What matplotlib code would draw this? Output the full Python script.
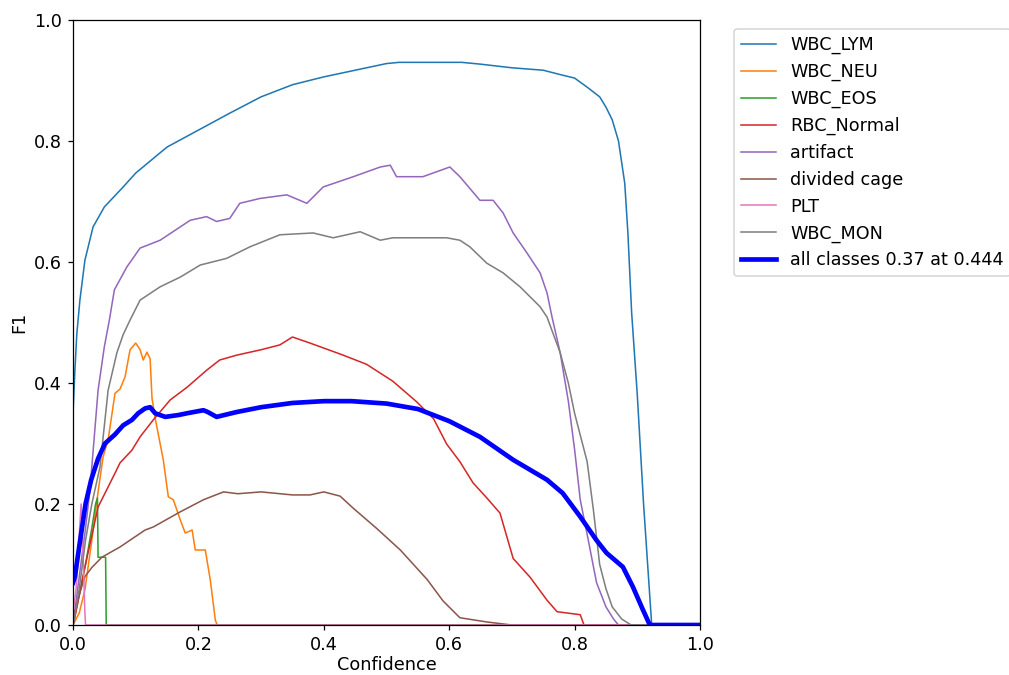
import matplotlib
matplotlib.use("Agg")
from matplotlib import pyplot as plt

# F1 vs confidence
lym_c = [0.0, 0.003, 0.006, 0.011, 0.019, 0.032, 0.05, 0.08, 0.1, 0.15, 0.2, 0.25, 0.3, 0.35,
         0.4, 0.45, 0.5, 0.52, 0.62, 0.65, 0.7, 0.75, 0.78, 0.8, 0.82, 0.84, 0.85, 0.86,
         0.87, 0.88, 0.885, 0.891, 0.9, 0.91, 0.923, 1.0]
lym_f = [0.35, 0.42, 0.48, 0.537, 0.603, 0.658, 0.691, 0.724, 0.747, 0.79, 0.818, 0.846, 0.873, 0.893,
         0.906, 0.917, 0.928, 0.93, 0.93, 0.927, 0.921, 0.917, 0.909, 0.904, 0.889, 0.873, 0.856, 0.835,
         0.80, 0.73, 0.648, 0.516, 0.38, 0.2, 0.0, 0.0]

neu_c = [0.0, 0.01, 0.019, 0.03, 0.04, 0.048, 0.056, 0.067, 0.075, 0.083, 0.091, 0.1, 0.107, 0.112,
         0.118, 0.123, 0.126, 0.131, 0.144, 0.152, 0.16, 0.171, 0.179, 0.19, 0.195, 0.211, 0.219,
         0.227, 0.23, 1.0]
neu_f = [0.0, 0.02, 0.058, 0.14, 0.22, 0.278, 0.306, 0.383, 0.39, 0.41, 0.455, 0.466, 0.455, 0.438,
         0.451, 0.44, 0.375, 0.342, 0.273, 0.212, 0.207, 0.174, 0.152, 0.157, 0.124, 0.124, 0.074,
         0.008, 0.0, 0.0]

eos_c = [0.0, 0.01, 0.02, 0.03, 0.036, 0.039, 0.040, 0.052, 0.053, 1.0]
eos_f = [0.0, 0.05, 0.10, 0.16, 0.20, 0.21, 0.112, 0.112, 0.0, 0.0]

rbc_c = [0.0, 0.003, 0.019, 0.04, 0.067, 0.075, 0.094, 0.107, 0.128, 0.155, 0.182, 0.213, 0.234,
         0.261, 0.3, 0.33, 0.35, 0.378, 0.431, 0.468, 0.51, 0.548, 0.575, 0.596, 0.617, 0.638,
         0.66, 0.681, 0.702, 0.729, 0.756, 0.772, 0.809, 0.815, 1.0]
rbc_f = [0.0, 0.013, 0.096, 0.195, 0.251, 0.268, 0.289, 0.311, 0.339, 0.372, 0.393, 0.421, 0.438,
         0.446, 0.455, 0.463, 0.476, 0.466, 0.446, 0.431, 0.403, 0.369, 0.341, 0.299, 0.27, 0.235,
         0.21, 0.185, 0.11, 0.079, 0.041, 0.022, 0.017, 0.0, 0.0]

art_c = [0.0, 0.01, 0.02, 0.027, 0.04, 0.05, 0.058, 0.066, 0.086, 0.107, 0.139, 0.187, 0.213, 0.229,
         0.25, 0.266, 0.298, 0.341, 0.373, 0.399, 0.447, 0.49, 0.506, 0.516, 0.527, 0.558, 0.601,
         0.617, 0.649, 0.67, 0.686, 0.702, 0.724, 0.745, 0.756, 0.764, 0.777, 0.79, 0.8, 0.809,
         0.82, 0.835, 0.85, 0.862, 0.87, 1.0]
art_f = [0.0, 0.08, 0.16, 0.223, 0.388, 0.46, 0.504, 0.554, 0.592, 0.623, 0.636, 0.669, 0.675, 0.667,
         0.672, 0.697, 0.705, 0.711, 0.697, 0.724, 0.741, 0.757, 0.76, 0.741, 0.741, 0.741, 0.757,
         0.741, 0.702, 0.702, 0.681, 0.648, 0.615, 0.582, 0.549, 0.509, 0.45, 0.37, 0.29, 0.207,
         0.15, 0.07, 0.03, 0.01, 0.0, 0.0]

cage_c = [0.0, 0.01, 0.019, 0.03, 0.046, 0.075, 0.115, 0.128, 0.171, 0.208, 0.24, 0.263, 0.3, 0.35,
          0.378, 0.4, 0.426, 0.447, 0.485, 0.522, 0.565, 0.59, 0.617, 0.66, 0.7, 1.0]
cage_f = [0.01, 0.05, 0.08, 0.095, 0.112, 0.129, 0.157, 0.162, 0.187, 0.207, 0.22, 0.217, 0.22, 0.215,
          0.215, 0.22, 0.213, 0.193, 0.159, 0.124, 0.075, 0.04, 0.012, 0.005, 0.0, 0.0]

plt_c = [0.0, 0.005, 0.01, 0.013, 0.016, 0.019, 0.02, 1.0]
plt_f = [0.02, 0.06, 0.15, 0.2, 0.12, 0.02, 0.0, 0.0]

mon_c = [0.0, 0.01, 0.02, 0.03, 0.043, 0.056, 0.07, 0.08, 0.091, 0.107, 0.139, 0.171, 0.203, 0.245,
         0.282, 0.33, 0.383, 0.415, 0.458, 0.49, 0.51, 0.54, 0.596, 0.617, 0.633, 0.66, 0.686,
         0.713, 0.745, 0.756, 0.777, 0.79, 0.8, 0.81, 0.82, 0.83, 0.84, 0.85, 0.86, 0.875, 0.89, 1.0]
mon_f = [0.0, 0.06, 0.14, 0.2, 0.261, 0.388, 0.45, 0.48, 0.504, 0.537, 0.559, 0.575, 0.595, 0.606,
         0.625, 0.645, 0.648, 0.64, 0.65, 0.636, 0.64, 0.64, 0.64, 0.636, 0.625, 0.598, 0.582,
         0.559, 0.526, 0.509, 0.45, 0.40, 0.35, 0.31, 0.27, 0.19, 0.10, 0.06, 0.03, 0.01, 0.0, 0.0]

all_c = [0.0, 0.003, 0.01, 0.02, 0.029, 0.04, 0.051, 0.067, 0.08, 0.094, 0.104, 0.115, 0.123, 0.131,
         0.147, 0.168, 0.182, 0.208, 0.215, 0.229, 0.261, 0.3, 0.35, 0.4, 0.444, 0.5, 0.55, 0.6,
         0.649, 0.702, 0.756, 0.781, 0.809, 0.835, 0.851, 0.877, 0.893, 0.909, 0.92, 1.0]
all_f = [0.07, 0.08, 0.13, 0.2, 0.24, 0.275, 0.3, 0.315, 0.33, 0.339, 0.35, 0.358, 0.36, 0.35,
         0.344, 0.347, 0.35, 0.355, 0.352, 0.344, 0.352, 0.36, 0.367, 0.37, 0.37, 0.366, 0.357, 0.337,
         0.311, 0.273, 0.24, 0.218, 0.179, 0.14, 0.119, 0.096, 0.063, 0.025, 0.0, 0.0]

names = ['WBC_LYM', 'WBC_NEU', 'WBC_EOS', 'RBC_Normal', 'artifact', 'divided cage', 'PLT', 'WBC_MON']
curves = [(lym_c, lym_f), (neu_c, neu_f), (eos_c, eos_f), (rbc_c, rbc_f),
          (art_c, art_f), (cage_c, cage_f), (plt_c, plt_f), (mon_c, mon_f)]
colors = ['tab:blue', 'tab:orange', 'tab:green', 'tab:red',
          'tab:purple', 'tab:brown', 'tab:pink', 'tab:gray']

plt.rcParams['font.size'] = 11.3

fig = plt.figure(figsize=(1009 / 112, 675 / 112), dpi=112)
ax = fig.add_axes([73 / 1009, 1 - 625 / 675, 627 / 1009, 605 / 675])

for (x, y), name, col in zip(curves, names, colors):
    ax.plot(x, y, linewidth=1, color=col, label=name)
ax.plot(all_c, all_f, linewidth=3, color='blue', label='all classes 0.37 at 0.444')

ax.set_xlabel('Confidence', labelpad=1.5)
ax.set_ylabel('F1')
ax.set_xlim(0, 1)
ax.set_ylim(0, 1)
ax.legend(bbox_to_anchor=(1.04, 1), loc='upper left')

fig.savefig('out.png', dpi=112)
